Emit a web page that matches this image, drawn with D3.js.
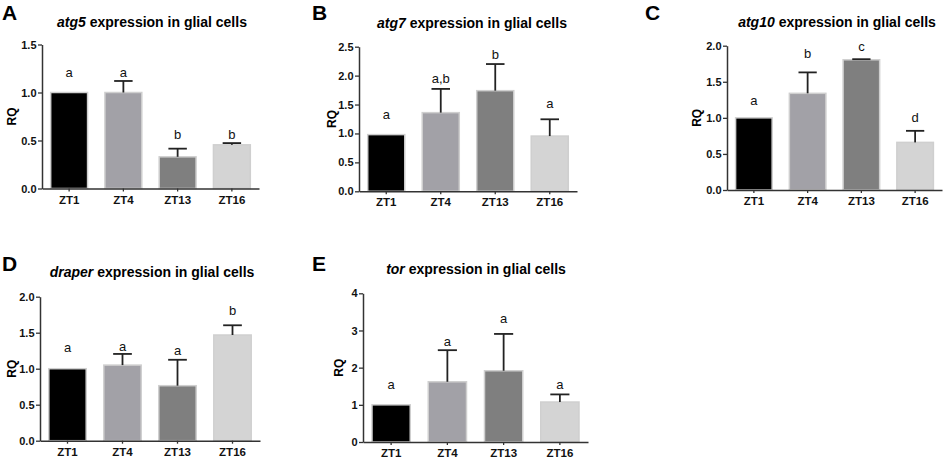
<!DOCTYPE html>
<html>
<head>
<meta charset="utf-8">
<script src="https://cdn.jsdelivr.net/npm/d3@7"></script>
<style>
  body { margin: 0; background: #fff; }
  text { font-family: "Liberation Sans", Arial, sans-serif; }
</style>
</head>
<body>
<script>
const SvgWidth = 948, SvgHeight = 460;

// data
const groups = ["ZT1", "ZT4", "ZT13", "ZT16"];
const barColors = ["#000000", "#a2a1a7", "#7f7f7f", "#d4d4d4"];

const atg5Mean = [1.0, 1.0, 0.33, 0.455];
const atg5Err = [0, 0.12, 0.085, 0.018];
const atg5Letters = ["a", "a", "b", "b"];
const atg5LetterAt = [1.21, 1.21, 0.56, 0.56];
const atg5Ticks = [0, 0.5, 1.0, 1.5];

const atg7Mean = [0.98, 1.36, 1.74, 0.955];
const atg7Err = [0, 0.41, 0.46, 0.29];
const atg7Letters = ["a", "a,b", "b", "a"];
const atg7LetterAt = [1.32, 1.955, 2.36, 1.52];
const atg7Ticks = [0, 0.5, 1.0, 1.5, 2.0, 2.5];

const atg10Mean = [1.0, 1.34, 1.805, 0.66];
const atg10Err = [0, 0.29, 0.008, 0.16];
const atg10Letters = ["a", "b", "c", "d"];
const atg10LetterAt = [1.246, 1.89, 1.985, 1.007];
const atg10Ticks = [0, 0.5, 1.0, 1.5, 2.0];

const draperMean = [1.0, 1.05, 0.764, 1.468];
const draperErr = [0, 0.155, 0.36, 0.135];
const draperLetters = ["a", "a", "a", "b"];
const draperLetterAt = [1.29, 1.315, 1.25, 1.805];
const draperTicks = [0, 0.5, 1.0, 1.5, 2.0];

const torMean = [1.0, 1.62, 1.917, 1.075];
const torErr = [0, 0.85, 0.99, 0.205];
const torLetters = ["a", "a", "a", "a"];
const torLetterAt = [1.56, 2.715, 3.325, 1.56];
const torTicks = [0, 1, 2, 3, 4];

// layout of each panel (pixels)
var panels = [
  {tag: "A", gene: "atg5", mean: atg5Mean, err: atg5Err, letters: atg5Letters, letterAt: atg5LetterAt, ticks: atg5Ticks, fmt: ".1f",
   x0: 42, x1: 259, y0: 188.5, y1: 44.5, tagX: 2, tagY: 20, titleX: 152, titleY: 27, rqX: 12},
  {tag: "B", gene: "atg7", mean: atg7Mean, err: atg7Err, letters: atg7Letters, letterAt: atg7LetterAt, ticks: atg7Ticks, fmt: ".1f",
   x0: 359, x1: 577, y0: 191.3, y1: 46.7, tagX: 312, tagY: 20, titleX: 472, titleY: 28, rqX: 332},
  {tag: "C", gene: "atg10", mean: atg10Mean, err: atg10Err, letters: atg10Letters, letterAt: atg10LetterAt, ticks: atg10Ticks, fmt: ".1f",
   x0: 727, x1: 942, y0: 190, y1: 45.7, tagX: 645, tagY: 20, titleX: 837, titleY: 27, rqX: 697},
  {tag: "D", gene: "draper", mean: draperMean, err: draperErr, letters: draperLetters, letterAt: draperLetterAt, ticks: draperTicks, fmt: ".1f",
   x0: 40, x1: 260, y0: 440.7, y1: 296.7, tagX: 2, tagY: 271, titleX: 152, titleY: 277, rqX: 12},
  {tag: "E", gene: "tor", mean: torMean, err: torErr, letters: torLetters, letterAt: torLetterAt, ticks: torTicks, fmt: "d",
   x0: 363, x1: 588, y0: 442, y1: 293.3, tagX: 312, tagY: 271, titleX: 476, titleY: 274, rqX: 339}
];

var svg = d3.select('body')
  .append('svg')
  .attr('width', SvgWidth)
  .attr('height', SvgHeight)
  .style('background-color', 'white');

panels.forEach(function(p) {
  var g = svg.append('g');
  var top = p.ticks[p.ticks.length - 1];

  var x = d3.scaleBand().domain(groups).range([p.x0, p.x1]).paddingInner(0.32).paddingOuter(0.16);
  var y = d3.scaleLinear().domain([0, top]).range([p.y0, p.y1]);

  // panel tag
  g.append('text')
    .attr('x', p.tagX).attr('y', p.tagY)
    .attr('font-size', 21).attr('font-weight', 'bold')
    .text(p.tag);

  // title
  var t = g.append('text')
    .attr('x', p.titleX).attr('y', p.titleY)
    .attr('text-anchor', 'middle')
    .attr('font-size', 14).attr('font-weight', 'bold');
  t.append('tspan').attr('font-style', 'italic').text(p.gene);
  t.append('tspan').text(' expression in glial cells');

  // bars
  g.selectAll('.bar')
    .data(p.mean)
    .enter().append('rect')
      .attr('class', 'bar')
      .attr('x', function(d, i) { return x(groups[i]); })
      .attr('y', function(d) { return y(d); })
      .attr('width', x.bandwidth())
      .attr('height', function(d) { return p.y0 - y(d); })
      .attr('fill', function(d, i) { return barColors[i]; })
      .attr('stroke', '#cfcfcf')
      .attr('stroke-width', 1.5);

  // error bars (upper only)
  var cap = x.bandwidth() * 0.25;
  p.mean.forEach(function(m, i) {
    if (!p.err[i]) return;
    var cx = x(groups[i]) + x.bandwidth() / 2;
    g.append('line')
      .attr('x1', cx).attr('x2', cx)
      .attr('y1', y(m)).attr('y2', y(m + p.err[i]))
      .attr('stroke', '#222').attr('stroke-width', 1.8);
    g.append('line')
      .attr('x1', cx - cap).attr('x2', cx + cap)
      .attr('y1', y(m + p.err[i])).attr('y2', y(m + p.err[i]))
      .attr('stroke', '#222').attr('stroke-width', 1.8);
  });

  // significance letters
  g.selectAll('.sig')
    .data(p.letters)
    .enter().append('text')
      .attr('class', 'sig')
      .attr('x', function(d, i) { return x(groups[i]) + x.bandwidth() / 2; })
      .attr('y', function(d, i) { return y(p.letterAt[i]) + 4.5; })
      .attr('text-anchor', 'middle')
      .attr('font-size', 13)
      .attr('fill', '#111')
      .text(function(d) { return d; });

  // axes
  var ya = g.append('g')
    .attr('transform', 'translate(' + p.x0 + ',0)')
    .call(d3.axisLeft(y).tickValues(p.ticks).tickFormat(d3.format(p.fmt)).tickSize(4).tickPadding(1.5).tickSizeOuter(0));
  var xa = g.append('g')
    .attr('transform', 'translate(0,' + p.y0 + ')')
    .call(d3.axisBottom(x).tickSize(3).tickPadding(4).tickSizeOuter(0));
  [ya, xa].forEach(function(a) {
    a.select('.domain').attr('stroke', '#333').attr('stroke-width', 1.5);
    a.selectAll('.tick line').attr('stroke', '#333').attr('stroke-width', 1.3);
    a.selectAll('.tick text')
      .attr('font-family', '"Liberation Sans", Arial, sans-serif')
      .attr('font-size', 11).attr('font-weight', 'bold').attr('fill', '#111');
  });
  xa.selectAll('.tick text').attr('font-size', 11.5);

  // y label
  g.append('text')
    .attr('transform', 'translate(' + p.rqX + ',' + ((p.y0 + p.y1) / 2) + ') rotate(-90)')
    .attr('text-anchor', 'middle')
    .attr('dy', '0.35em')
    .attr('font-size', 12).attr('font-weight', 'bold')
    .text('RQ');
});
</script>
</body>
</html>
